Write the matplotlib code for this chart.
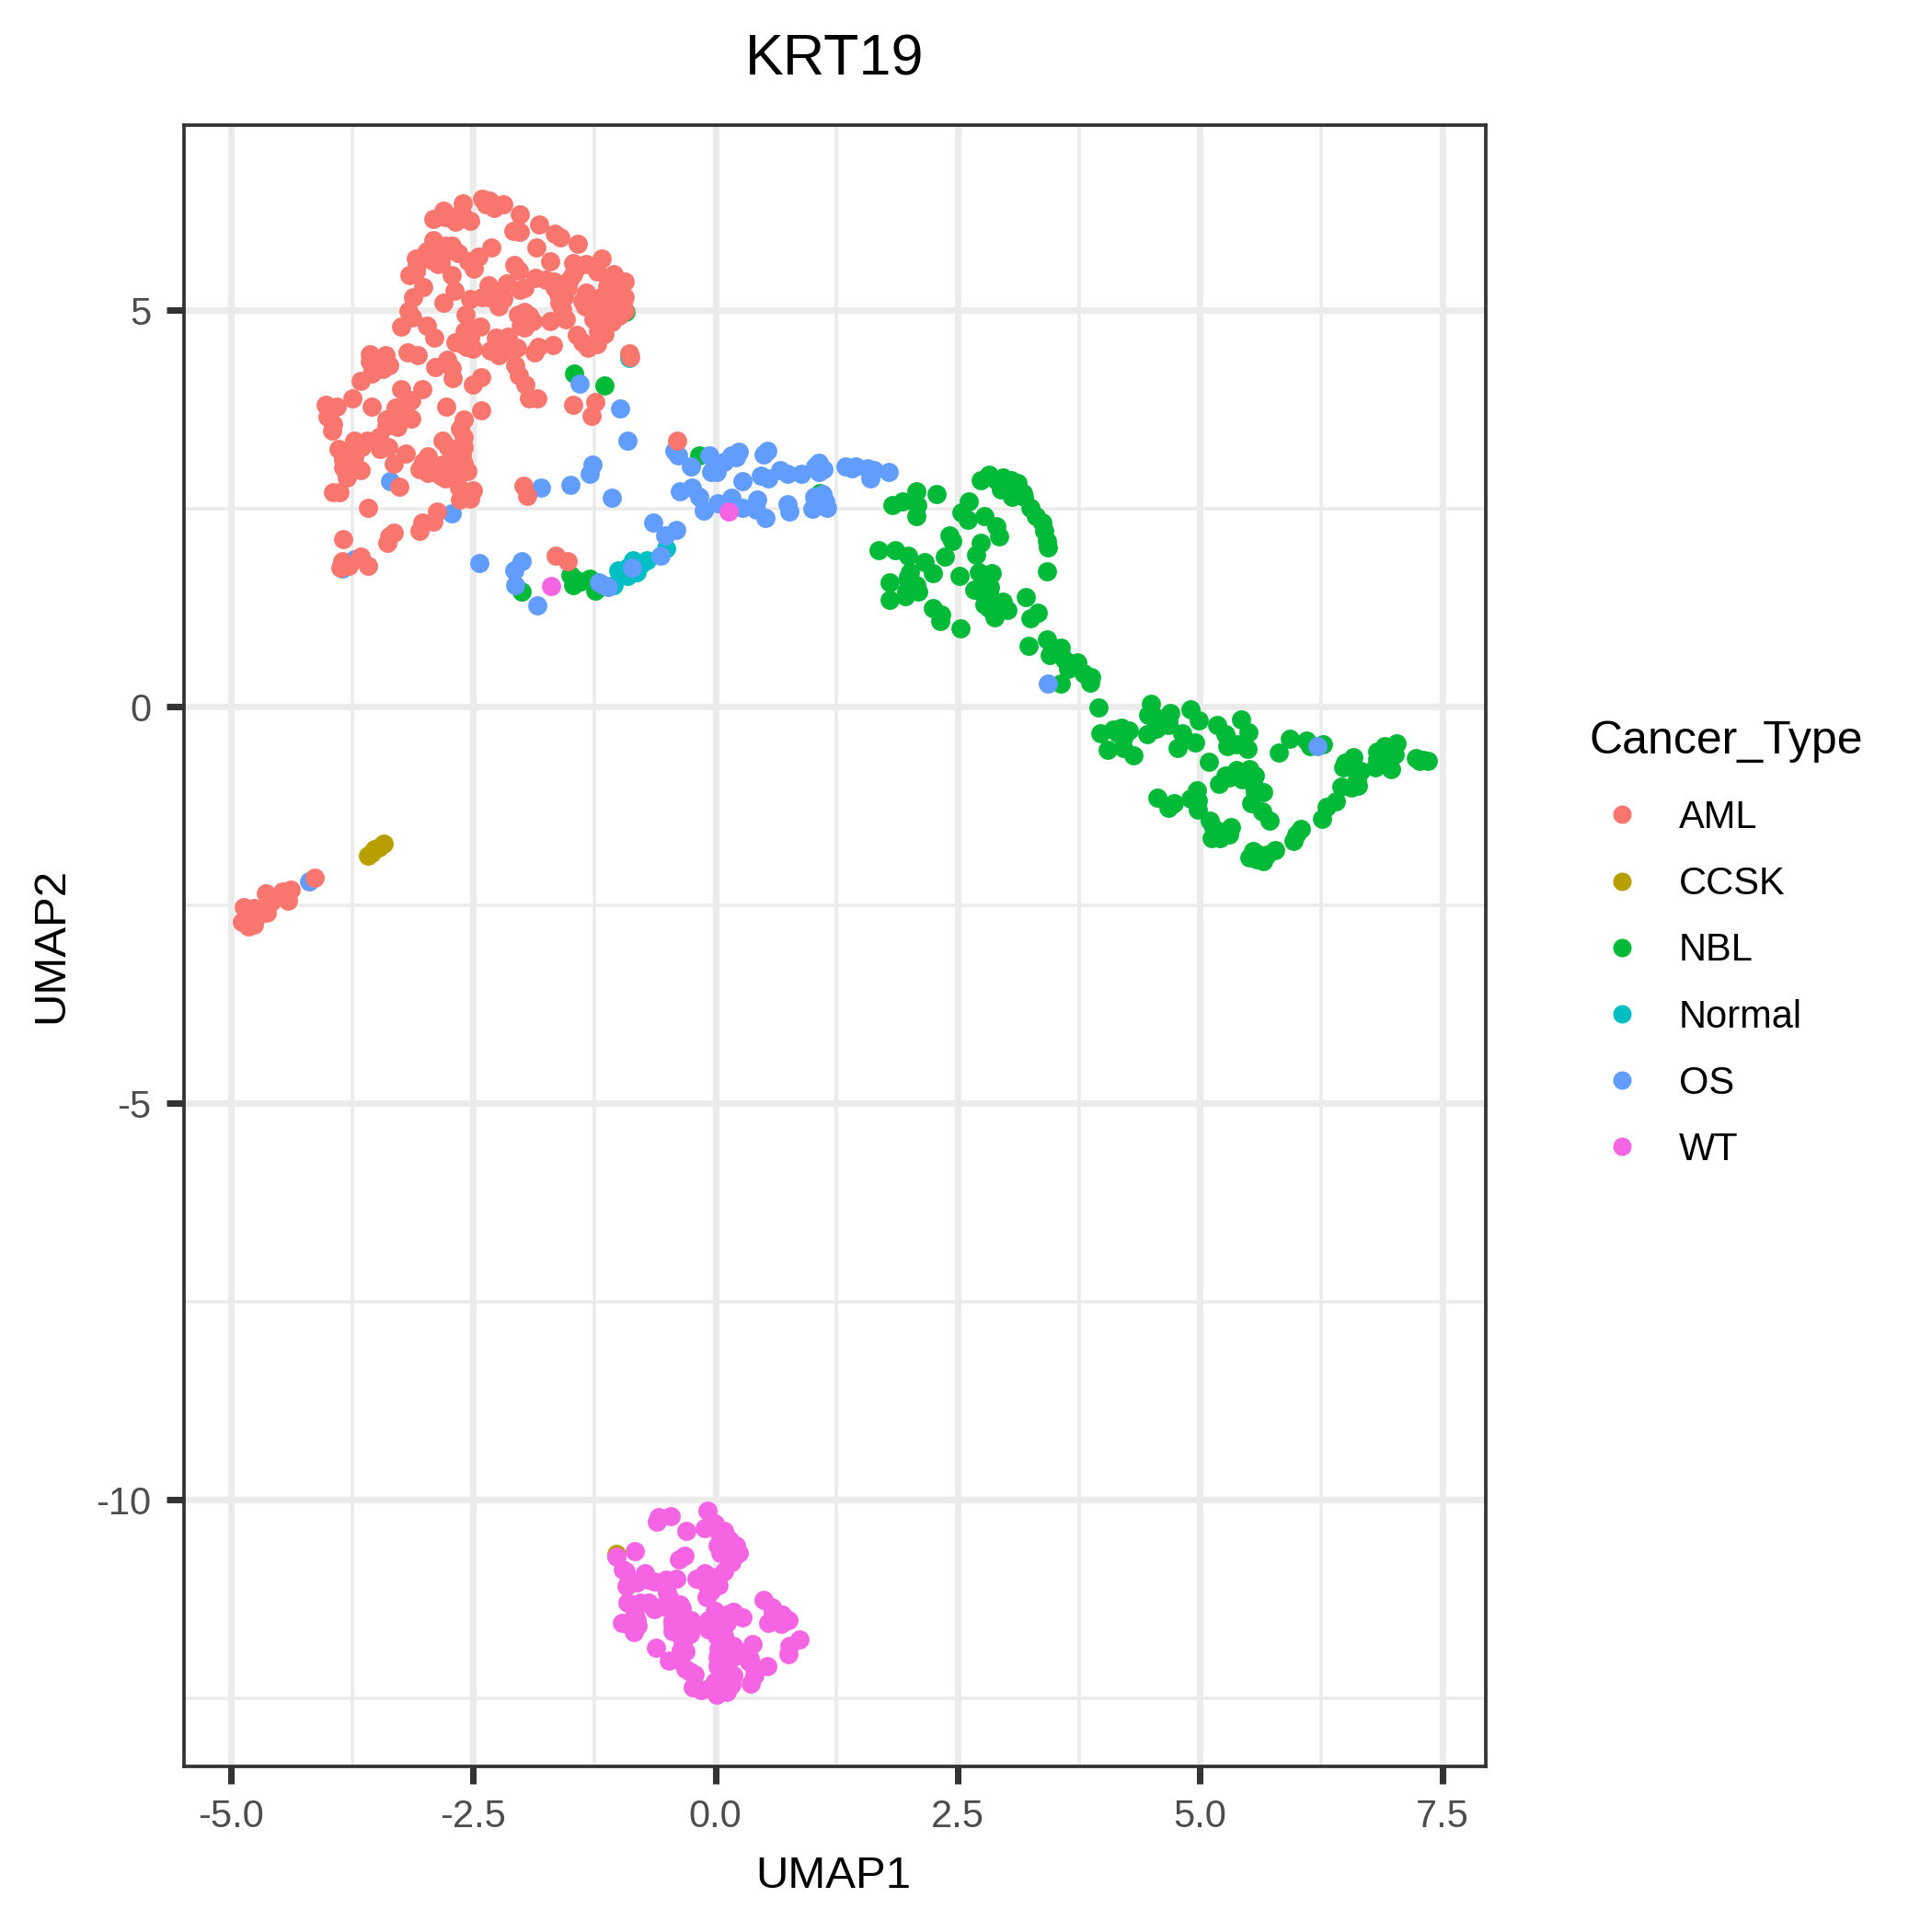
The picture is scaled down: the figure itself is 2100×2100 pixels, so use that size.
import matplotlib
matplotlib.use('Agg')
import matplotlib.pyplot as plt
from matplotlib.lines import Line2D

plt.rcParams['font.family'] = ['Liberation Sans', 'DejaVu Sans']

# values
aml_x = [-2.41,-2.33,-2.29,-2.19,-2.37,-2.02,-1.82,-1.66,-1.60,-1.42,-2.09,-2.02,-1.85,-1.71,-2.61,-2.81,-2.91,-2.79,-2.68,-2.53,-2.62,
         -2.91,-2.72,-2.79,-2.66,-2.98,-2.87,-3.09,-2.86,-3.08,-3.16,-3.09,-2.31,-2.45,-2.55,-2.49,-2.72,-3.02,-2.69,-3.12,-2.81,-2.08,
         -2.03,-2.34,-2.15,-1.86,-1.97,-1.75,-1.67,-2.02,-2.53,-2.41,-2.34,-2.19,-2.24,-2.27,-2.58,-3.17,-3.13,-3.24,-2.98,-2.90,-2.43,
         -2.59,-2.68,-2.57,-2.50,-2.53,-2.27,-2.14,-2.32,-2.21,-2.05,-2.04,-1.97,-1.89,-2.01,-1.71,-1.54,-1.61,-1.56,-1.59,-1.51,-1.45,
         -1.47,-1.34,-1.22,-1.17,-1.05,-0.94,-1.12,-1.01,-1.34,-1.35,-1.28,-1.18,-1.09,-0.96,-0.94,-1.09,-1.20,-1.07,-1.21,-1.15,-1.43,
         -1.37,-1.32,-1.22,-1.68,-1.83,-1.87,-0.89,-0.88,-2.07,-2.03,-1.96,-1.92,-1.84,-2.77,-2.72,-2.89,-2.71,-2.42,-2.50,-2.42,-2.78,
         -2.60,-2.64,-2.60,-2.62,-2.62,-3.03,-3.14,-3.24,-3.21,-3.33,-3.14,-3.27,-3.28,-3.40,-3.57,-3.41,-3.57,-3.37,-3.43,-3.55,-3.66,
         -3.18,-3.07,-3.75,-3.91,-4.02,-3.55,-4.00,-3.95,-3.96,-3.73,-3.60,-3.47,-3.38,-3.46,-3.65,-3.89,-3.84,-3.73,-3.81,-3.66,-3.80,
         -3.74,-3.20,-3.32,-2.97,-3.02,-3.00,-2.97,-2.82,-2.76,-2.82,-2.84,-2.75,-2.56,-2.65,-2.65,-2.50,-3.26,-3.95,-3.88,-2.64,-2.53,
         -3.59,-2.87,-2.91,-3.03,-3.05,-3.32,-3.37,-3.39,-3.84,-3.85,-3.66,-3.59,-3.87,-3.79,-1.47,-1.24,-1.28,-1.98,-1.94,-1.65,-1.53,
         -0.40,-4.14,-4.38,-4.47,-4.41,-4.64,-4.58,-4.63,-4.76,-4.87,-4.79,-4.89,-4.76,-4.82,-4.71,
         -1.09,-0.99,-1.15,-1.02,-1.15,-0.99,-1.24,-1.09,-1.03,-1.10,-1.15,-1.37,-1.21,-0.94,-1.26,-1.12,-1.58,-1.62,-1.66,-1.53,-1.47,
         -2.92,-2.82,-2.92,-3.02,-2.77,-2.84,-2.68,-2.60,-2.64,-2.53,-2.26,-2.16,-2.24,-2.00,-1.92,-1.97,-3.30,-3.40,-3.22,-3.19,-3.84,
         -3.76,-3.81,-3.71,-3.84,-2.60,-2.67,-2.60,-2.73,-2.79,-2.92,-2.57,-2.67,-3.05]
aml_y = [6.41,6.38,6.29,6.34,6.34,6.21,6.08,5.96,5.92,5.84,6.00,5.99,5.79,5.62,6.35,6.26,6.15,6.17,6.12,6.13,6.22,
         5.88,5.81,5.81,5.72,5.74,5.67,5.65,5.58,5.57,5.44,5.49,5.79,5.68,5.62,5.53,5.44,5.29,5.25,5.17,5.10,5.57,
         5.50,5.32,5.34,5.41,5.28,5.38,5.36,5.26,5.14,5.17,5.16,5.14,5.05,5.20,4.95,4.99,4.91,4.79,4.81,4.66,4.79,
         4.74,4.60,4.54,4.51,4.66,4.66,4.67,4.49,4.47,4.53,4.95,4.98,4.86,4.80,4.86,4.89,5.10,5.16,5.26,5.38,5.51,
         5.60,5.58,5.49,5.65,5.46,5.36,5.30,5.28,5.22,5.05,5.12,5.16,5.12,5.09,4.99,4.97,4.99,4.85,4.83,4.70,4.69,
         4.60,4.53,4.57,4.56,4.54,4.47,4.46,4.41,4.31,4.18,4.06,3.89,3.89,4.38,4.27,4.28,4.14,4.16,4.06,3.74,3.78,
         3.62,3.51,3.40,3.29,3.17,4.01,3.87,4.00,3.77,3.67,3.63,3.62,3.53,3.54,4.45,4.44,4.35,4.31,4.26,4.20,4.11,
         4.47,4.44,3.89,3.79,3.81,3.79,3.66,3.56,3.48,3.36,3.35,3.40,3.27,3.25,3.27,3.25,3.15,3.15,3.02,2.99,2.89,
         3.05,3.19,3.07,3.16,3.09,3.02,2.95,3.35,3.27,3.05,2.92,2.92,2.97,3.02,2.76,2.73,2.77,2.71,2.71,2.61,2.62,
         2.51,2.46,2.33,2.32,2.22,2.20,2.15,2.07,2.12,1.84,1.89,1.78,1.75,1.78,3.81,3.84,3.67,2.79,2.66,1.91,1.84,
         3.35,-2.15,-2.30,-2.33,-2.44,-2.35,-2.46,-2.60,-2.54,-2.52,-2.65,-2.71,-2.75,-2.77,-2.62,
         5.20,5.16,5.12,5.05,4.91,4.93,5.09,5.38,5.36,4.89,4.81,5.12,4.74,5.16,4.89,5.24,5.01,5.20,5.28,5.28,5.45,
         5.78,5.70,5.63,5.67,5.80,5.59,6.19,6.17,4.58,4.74,4.54,4.51,4.43,4.89,4.93,4.78,3.77,3.62,3.69,3.83,3.02,
         3.19,2.96,3.02,3.11,3.27,3.15,3.07,3.00,2.88,2.96,2.69,2.88,3.00]

ccsk_x = [-3.59,-3.55,-3.52,-3.47,-3.42,-1.02]
ccsk_y = [-1.88,-1.84,-1.80,-1.77,-1.73,-10.68]

nbl_x = [2.74,2.82,2.90,2.97,3.05,3.12,2.95,3.06,3.11,3.18,3.25,3.31,3.39,3.42,3.43,3.42,2.07,2.28,1.93,1.83,2.08,2.07,2.61,2.54,2.60,
         2.78,2.90,2.93,2.41,2.44,2.74,2.69,2.37,1.68,1.85,1.99,2.16,2.24,2.52,2.01,2.72,2.85,1.99,1.80,2.09,2.03,1.96,1.80,2.67,2.83,
         2.76,2.78,2.89,3.01,2.97,2.88,2.85,3.20,3.33,3.25,2.24,2.33,2.32,2.53,3.42,3.23,3.56,3.45,3.60,3.73,3.64,3.80,3.88,3.87,3.56,
         3.95,3.97,4.10,4.19,4.27,4.21,4.05,4.21,4.31,4.49,4.47,4.57,4.69,4.67,4.46,4.55,4.82,4.77,4.95,4.90,4.99,5.18,5.26,5.28,5.38,
         5.49,5.42,5.50,5.09,5.81,5.93,6.10,6.14,6.27,6.58,6.48,6.50,6.66,6.62,6.83,6.81,6.91,7.03,6.93,7.01,6.97,7.23,7.30,7.35,6.46,
         6.56,6.63,6.40,6.31,6.26,6.04,5.99,5.97,5.78,5.65,5.69,5.55,5.51,5.59,5.20,5.30,5.38,5.51,5.43,5.55,5.65,5.57,5.53,5.64,5.72,
         4.56,4.67,4.73,4.97,4.90,4.98,5.10,5.32,5.30,5.21,5.12,-0.17,1.08,-2.00,-1.50,-1.45,-1.47,-1.39,-1.30,-1.24,-1.46,-1.15,-0.93,
         2.78,2.82,2.93,1.99,1.97,2.07,4.15,6.91,6.83,6.97,6.95,6.87,4.67,4.59,4.53,7.27,3.01,3.17,3.37,5.57,5.41,5.26,4.98,5.22,5.14,5.61,2.74,2.82]
nbl_y = [2.86,2.93,2.86,2.89,2.86,2.82,2.74,2.65,2.74,2.65,2.51,2.40,2.22,2.09,2.01,1.71,2.72,2.68,2.59,2.54,2.54,2.41,2.59,2.45,2.36,
         2.40,2.28,2.15,2.16,2.09,2.07,1.92,1.89,1.97,1.98,1.90,1.82,1.68,1.65,1.70,1.70,1.68,1.60,1.57,1.45,1.51,1.39,1.35,1.48,1.51,
         1.54,1.29,1.33,1.22,1.33,1.13,1.24,1.38,1.19,1.12,1.25,1.16,1.08,0.99,0.85,0.77,0.74,0.65,0.60,0.56,0.48,0.42,0.37,0.31,0.29,
         -0.01,-0.33,-0.29,-0.26,-0.30,-0.39,-0.54,-0.52,-0.61,0.04,-0.10,-0.16,-0.08,-0.23,-0.35,-0.27,-0.33,-0.52,-0.45,-0.03,-0.17,-0.23,-0.35,-0.50,-0.47,
         -0.53,-0.16,-0.32,-0.69,-0.58,-0.40,-0.43,-0.50,-0.47,-0.63,-0.76,-0.70,-0.81,-0.91,-0.66,-0.76,-0.49,-0.46,-0.60,-0.60,-0.78,-0.65,-0.67,-0.68,-1.01,
         -1.02,-1.00,-1.19,-1.26,-1.41,-1.54,-1.61,-1.69,-1.81,-1.95,-1.86,-1.82,-1.90,-1.92,-0.97,-0.89,-0.80,-0.78,-0.91,-0.97,-1.07,-1.07,-1.21,-1.32,-1.43,
         -1.15,-1.27,-1.21,-1.05,-1.16,-1.30,-1.43,-1.52,-1.61,-1.66,-1.65,3.17,2.69,1.45,1.66,1.60,1.53,1.58,1.61,1.47,4.20,4.05,4.98,
         1.45,1.25,1.29,1.64,1.45,1.54,-0.33,-0.56,-0.56,-0.52,-0.68,-0.72,-0.18,-0.21,-0.12,-0.68,2.84,2.69,2.32,-0.87,-0.85,-0.87,-1.18,-1.57,-1.53,-1.86,1.45,1.43]

normal_x = [-0.89,-1.05,-1.00,-0.91,-0.81,-0.85,-0.71,-0.77,-0.51,-0.91]
normal_y = [4.40,1.53,1.72,1.65,1.70,1.85,1.85,1.80,2.00,1.76]

os_x = [-1.40,-0.98,-0.91,-3.36,-2.72,-3.73,-3.85,-1.27,-1.30,-1.50,-1.80,-1.07,-2.44,-2.00,-2.08,-2.07,-1.84,-0.64,-0.41,-0.52,-0.57,-0.86,
        -1.20,-1.11,-1.16,-0.42,-0.39,-0.25,-0.06,-0.04,0.01,0.09,0.16,0.24,0.21,0.53,0.50,0.28,0.47,0.54,0.67,0.74,0.89,1.03,1.07,1.11,1.07,
        1.34,1.45,1.41,1.57,1.64,1.60,1.79,-0.37,-0.24,-0.17,-0.12,0.02,0.16,0.28,0.42,0.43,0.52,0.74,0.76,1.00,1.02,1.10,1.13,1.15,3.43,6.21,-4.19]
os_y = [4.08,3.76,3.36,2.84,2.44,1.86,1.74,3.05,2.94,2.80,2.76,2.64,1.81,1.84,1.72,1.54,1.28,2.32,2.23,2.16,1.91,1.76,
        1.57,1.51,1.53,3.23,3.17,3.03,3.17,2.96,2.96,3.09,3.17,3.22,3.15,3.23,3.18,2.84,2.91,2.88,2.99,2.94,2.94,3.03,3.08,3.00,2.96,
        3.03,3.03,3.01,3.01,2.98,2.88,2.96,2.72,2.76,2.65,2.47,2.57,2.64,2.51,2.49,2.61,2.38,2.56,2.46,2.50,2.65,2.68,2.59,2.51,0.29,-0.49,-2.20]

wt_x = [-0.59,-0.46,-0.60,-0.30,-0.08,-0.11,-0.01,0.12,0.04,0.21,0.02,0.21,0.16,0.09,-0.32,-0.38,-0.83,-1.02,-0.93,-0.92,-0.81,-0.73,-0.63,
        -0.51,-0.41,-0.20,-0.11,-0.06,0.03,-0.09,-0.48,-0.91,-0.78,-0.69,-0.63,-0.35,-0.47,-0.97,-0.81,-0.84,-0.44,-0.44,-0.25,-0.26,-0.07,-0.07,
        0.02,0.10,0.18,0.28,0.05,0.50,0.58,0.69,0.75,0.54,0.68,0.87,0.76,0.75,0.38,0.18,0.03,-0.34,-0.31,-0.61,-0.48,-0.31,-0.22,-0.23,-0.15,
        0.01,0.12,0.16,0.02,0.36,0.53,0.40,0.35,0.27,0.04,0.12,0.12,0.10,-0.06,-1.70,0.14,
        -0.04,0.09,0.15,0.09,0.13,0.05,0.24,-0.96,-0.90,-0.55,-0.69,-0.50,-0.55,-0.37,-0.89,-0.80,-0.83,-0.44,-0.26,-0.36,-0.36,-0.39,-0.26,
        -0.04,0.02,0.12,-0.10,0.01,0.15,-0.01,0.09,0.09,0.02,0.15,0.18,0.34,0.40,0.02,0.09,-0.01,0.18,0.05,0.09,0.59,0.62,-0.17,-0.04,0.01,-0.10,-0.04]
wt_y = [-10.22,-10.20,-10.28,-10.39,-10.13,-10.36,-10.30,-10.47,-10.43,-10.58,-10.58,-10.69,-10.79,-10.90,-10.70,-10.75,-10.64,-10.71,-10.90,-11.09,-11.04,-10.92,-11.03,
        -11.01,-10.99,-10.99,-10.92,-11.07,-11.08,-11.23,-11.23,-11.30,-11.29,-11.30,-11.38,-11.36,-11.34,-11.55,-11.52,-11.67,-11.51,-11.65,-11.51,-11.69,-11.52,-11.63,
        -11.46,-11.46,-11.41,-11.48,-11.67,-11.26,-11.35,-11.45,-11.52,-11.55,-11.56,-11.76,-11.84,-11.95,-11.82,-11.84,-11.87,-11.79,-11.91,-11.86,-12.03,-12.13,-12.20,-12.36,-12.40,
        -12.45,-12.42,-12.33,-12.37,-12.32,-12.10,-12.13,-12.00,-11.92,-12.13,-12.12,-12.25,-11.98,-12.37,1.52,2.46,
        -10.28,-10.39,-10.51,-10.59,-10.70,-10.67,-10.67,-10.88,-11.05,-11.05,-11.01,-11.17,-11.34,-11.32,-11.57,-11.59,-11.44,-11.57,-11.63,-11.71,-11.90,-12.02,-12.17,
        -11.59,-11.59,-11.55,-11.59,-11.71,-11.44,-11.40,-11.71,-11.82,-11.98,-11.90,-11.98,-12.04,-12.21,-12.10,-12.21,-12.29,-12.21,-12.41,-12.33,-11.44,-11.52,-10.99,-10.97,-11.03,-11.05,-11.15]

cancer_types = ['AML', 'CCSK', 'NBL', 'Normal', 'OS', 'WT']
colors = ['#F8766D', '#B79F00', '#00BA38', '#00BFC4', '#619CFF', '#F564E3']

x_major = [-5.0, -2.5, 0.0, 2.5, 5.0, 7.5]
x_minor = [-3.75, -1.25, 1.25, 3.75, 6.25]
y_major = [-10, -5, 0, 5]
y_minor = [-12.5, -7.5, -2.5, 2.5]

W = H = 2100
fig = plt.figure(figsize=(7, 7), dpi=300)
# panel edges in pixels: 200..1615 across, 135.5..1920 down
ax = fig.add_axes([200 / W, 1 - 1920 / H, 1415 / W, 1784.5 / H])
ax.set_xlim(-5.485, 7.95)
ax.set_ylim(-13.36, 7.34)

ax.set_xticks(x_major)
ax.set_xticklabels(['-5.0', '-2.5', '0.0', '2.5', '5.0', '7.5'])
ax.set_yticks(y_major)
ax.set_yticklabels(['-10', '-5', '0', '5'])
ax.set_xticks(x_minor, minor=True)
ax.set_yticks(y_minor, minor=True)
ax.grid(which='major', color='#EBEBEB', linewidth=1.7)
ax.grid(which='minor', color='#EBEBEB', linewidth=0.85)
ax.set_axisbelow(True)
ax.tick_params(which='major', length=4.5, width=1.7, color='#333333', labelcolor='#4D4D4D', labelsize=10, pad=4)
ax.tick_params(which='minor', length=0)
for s in ax.spines.values():
    s.set_color('#333333')
    s.set_linewidth(0.9)
    s.set_zorder(10)

size = 25
ax.scatter(ccsk_x, ccsk_y, s=size, c=colors[1], linewidths=0, zorder=3)
ax.scatter(nbl_x, nbl_y, s=size, c=colors[2], linewidths=0, zorder=3.1)
ax.scatter(normal_x, normal_y, s=size, c=colors[3], linewidths=0, zorder=3.2)
ax.scatter(os_x, os_y, s=size, c=colors[4], linewidths=0, zorder=3.3)
ax.scatter(aml_x, aml_y, s=size, c=colors[0], linewidths=0, zorder=3.4)
ax.scatter(wt_x, wt_y, s=size, c=colors[5], linewidths=0, zorder=3.5)

ax.set_title('KRT19', fontsize=15.1, pad=13)
ax.set_xlabel('UMAP1', fontsize=11.8, labelpad=5.3, x=0.4985)
ax.set_ylabel('UMAP2', fontsize=11.8, labelpad=6.2)

handles = [Line2D([], [], linestyle='', marker='o', markersize=4.8, markeredgewidth=0, color=c) for c in colors]
leg = fig.legend(handles, cancer_types, title='Cancer_Type', frameon=False, fontsize=10, title_fontsize=12,
                 loc='upper left', bbox_to_anchor=(1728 / W, 1 - 783 / H), borderaxespad=0, borderpad=0,
                 labelspacing=0.773, handlelength=1.68, handletextpad=0.64, alignment='left')
leg._legend_box.sep = 9.6

fig.savefig('out.png', dpi=300, facecolor='white')
